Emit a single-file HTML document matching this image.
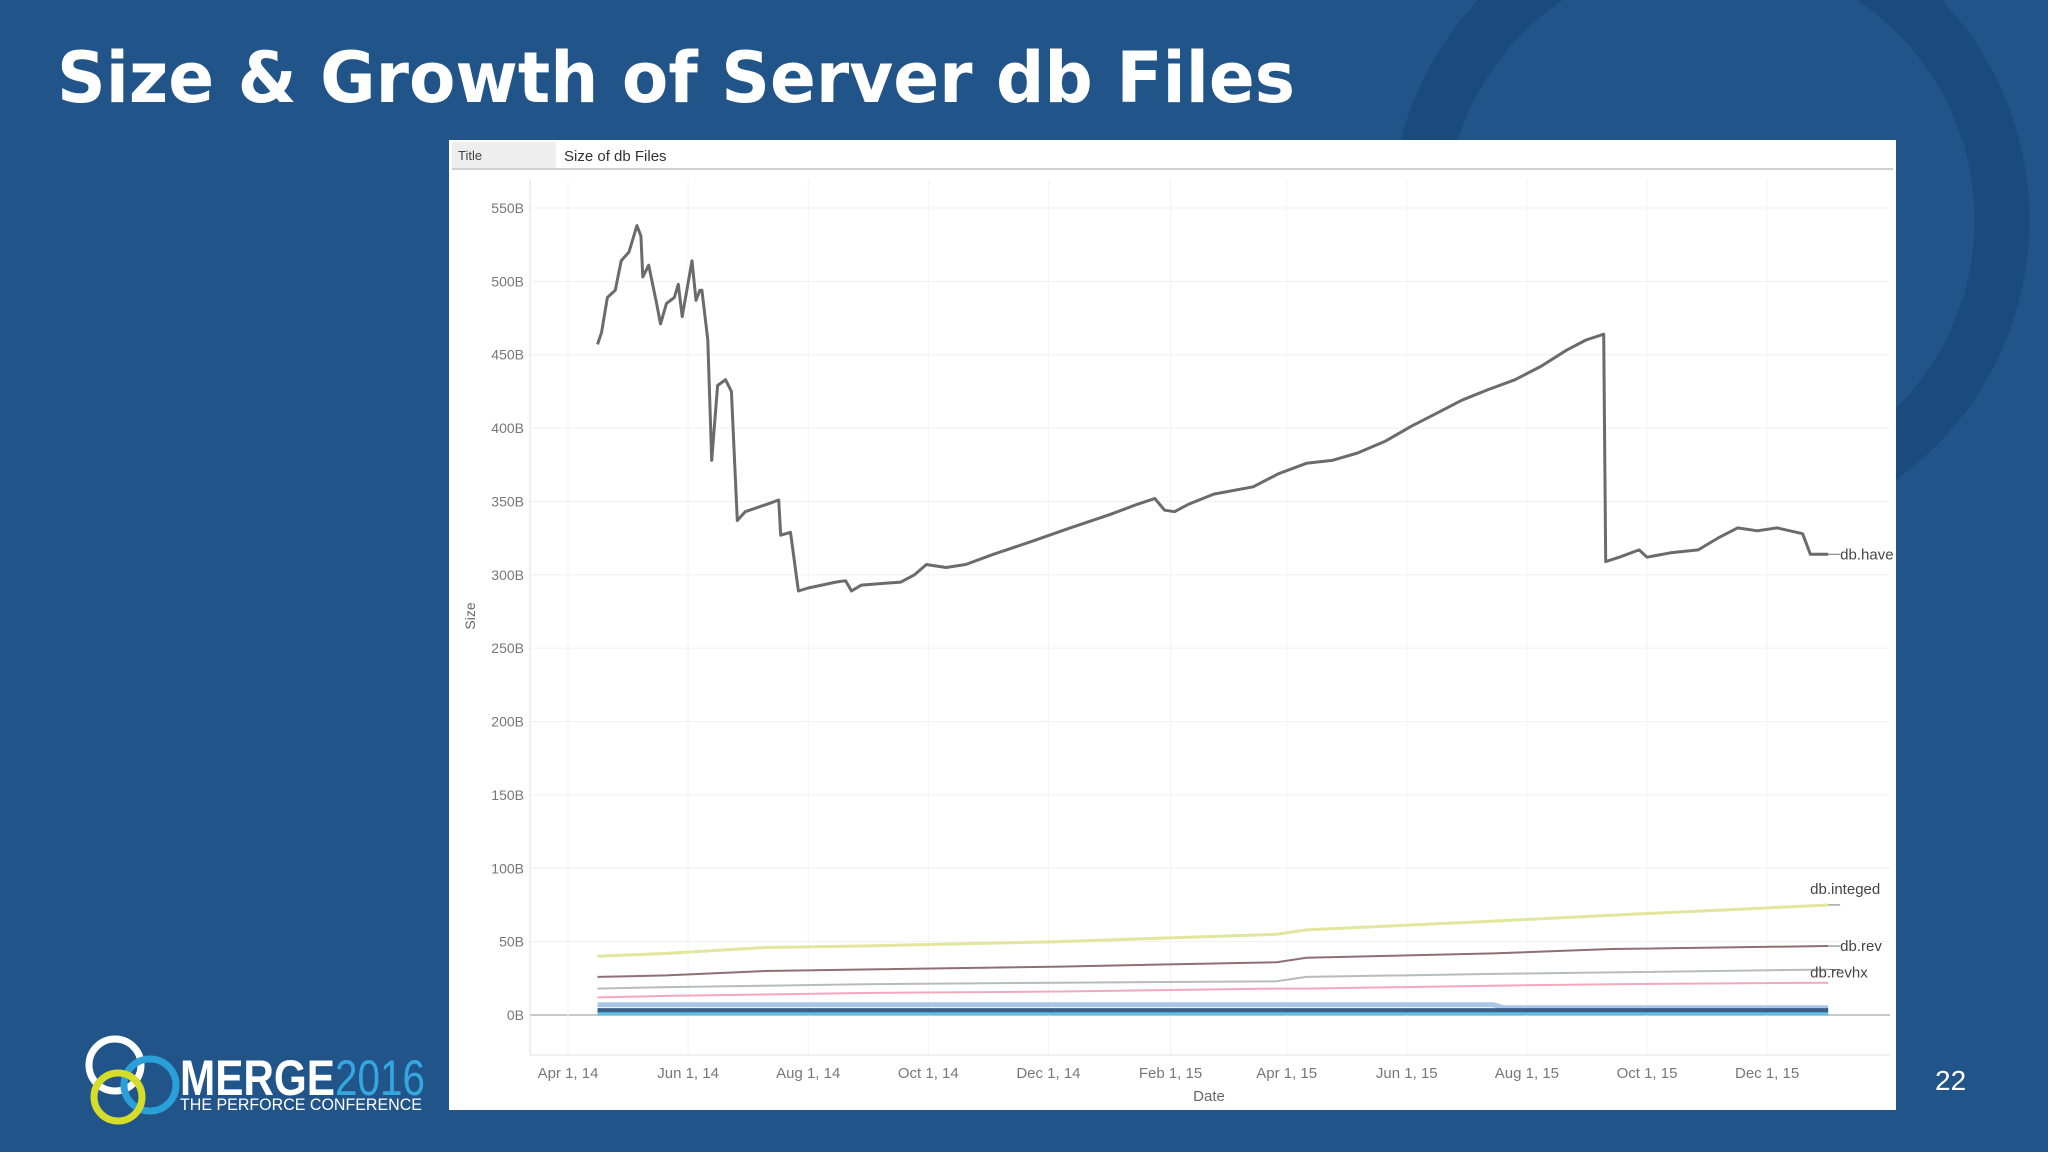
<!DOCTYPE html>
<html><head><meta charset="utf-8"><style>
html,body{margin:0;padding:0;background:#21558a;}
svg{display:block;}
text{font-family:"Liberation Sans",sans-serif;}
</style></head><body>
<svg id="s" width="2048" height="1152" viewBox="0 0 2048 1152" xmlns="http://www.w3.org/2000/svg">
<rect width="2048" height="1152" fill="#21558a"/>
<circle cx="1710" cy="220" r="292" fill="none" stroke="#1b4a7d" stroke-width="55"/>
<text x="57" y="102" style="font-family:'DejaVu Sans',sans-serif" font-weight="bold" font-size="70" fill="#fff" textLength="1238" lengthAdjust="spacingAndGlyphs">Size &amp; Growth of Server db Files</text>
<g>
<rect x="449" y="140" width="1447" height="970" fill="#fff"/>
<rect x="452" y="142" width="104" height="26" fill="#eeeeee"/>
<line x1="452" y1="169" x2="1893" y2="169" stroke="#d0d0d0" stroke-width="2"/>
<text x="458" y="160" font-size="13" fill="#444">Title</text>
<text x="564" y="161" font-size="15" fill="#333">Size of db Files</text>
</g>
<g id="grid"></g>
<g id="axes"></g>
<g id="series"></g>
<text x="475" y="616" font-size="14" fill="#666" transform="rotate(-90 475 616)" text-anchor="middle">Size</text>
<text x="1209" y="1101" font-size="15" fill="#666" text-anchor="middle">Date</text>
<text x="1935" y="1090" font-size="28" fill="#fff">22</text>
<g>
<circle cx="115" cy="1065" r="26" fill="none" stroke="#fff" stroke-width="7"/>
<circle cx="150" cy="1085" r="26" fill="none" stroke="#2a9fd8" stroke-width="7"/>
<circle cx="118" cy="1097" r="24" fill="none" stroke="#d6dc2a" stroke-width="7"/>
<text x="180" y="1095" font-size="50" font-weight="bold" fill="#fff" textLength="155" lengthAdjust="spacingAndGlyphs">MERGE</text>
<text x="335" y="1095" font-size="50" fill="#35a7e0" textLength="90" lengthAdjust="spacingAndGlyphs">2016</text>
<text x="180" y="1110" font-size="17" fill="#fff" textLength="242" lengthAdjust="spacingAndGlyphs">THE PERFORCE CONFERENCE</text>
</g>
</svg>
<script>
const yTicks=[0,50,100,150,200,250,300,350,400,450,500,550];
const yTickLabels=["0B","50B","100B","150B","200B","250B","300B","350B","400B","450B","500B","550B"];
const xTickDays=[0,61,122,183,244,306,365,426,487,548,609];
const xTickLabels=["Apr 1, 14","Jun 1, 14","Aug 1, 14","Oct 1, 14","Dec 1, 14","Feb 1, 15","Apr 1, 15","Jun 1, 15","Aug 1, 15","Oct 1, 15","Dec 1, 15"];
const haveDays=[15,17,20,24,27,31,35,37,38,41,45,47,50,54,56,58,63,65,67,68,71,73,76,80,83,86,90,103,107,108,113,117,122,136,141,144,149,169,176,182,192,202,216,236,255,275,289,298,303,308,315,328,348,361,375,388,401,415,428,441,454,467,481,494,507,517,526,527,534,544,548,560,574,584,594,604,614,627,631,640];
const haveVals=[457,465,489,494,514,520,538,531,503,511,485,471,485,489,498,476,514,487,494,494,460,378,429,433,425,337,343,349,351,327,329,289,291,295,296,289,293,295,300,307,305,307,314,323,332,341,348,352,344,343,348,355,360,369,376,378,383,391,401,410,419,426,433,442,453,460,464,309,312,317,312,315,317,325,332,330,332,328,314,314];
const lowDays=[15,50,100,150,250,360,375,470,530,640];
const integedVals=[40,42,46,47,50,55,58,64,68,75];
const revVals=[26,27,30,31,33,36,39,42,45,47];
const revhxVals=[18,19,20,21,22,23,26,28,29,31];
const pinkVals=[12,13,14,15,16,18,18,20,21,22];
const blueLightDays=[15,470,475,640];
const blueLightVals=[7,7,5,5];
const blueDarkVals=[3,3,3,3];
const cyanVals=[0.8,0.8,0.8,0.8];
const NS="http://www.w3.org/2000/svg";
function X(d){return 568+d*1.969;}
function Y(v){return 1015-v*1.4673;}
function mk(t,a,p){const e=document.createElementNS(NS,t);for(const k in a)e.setAttribute(k,a[k]);p.appendChild(e);return e;}
const grid=document.getElementById('grid'),axes=document.getElementById('axes'),ser=document.getElementById('series');
yTicks.forEach((v,i)=>{
 const l=mk('line',{x1:530,x2:1890,y1:Y(v),y2:Y(v),stroke:v===0?'#c8c8c8':'#f0f0f0','stroke-width':v===0?2:1},grid);
 
 
 const t=mk('text',{x:524,y:Y(v)+5,'font-size':14,fill:'#777','text-anchor':'end'},axes);
 t.textContent=yTickLabels[i];
 
 
});
xTickDays.forEach((d,i)=>{
 const l=mk('line',{x1:X(d),x2:X(d),y1:180,y2:1055,stroke:'#f3f3f3','stroke-width':1},grid);
 
 
 const t=mk('text',{x:X(d),y:1078,'font-size':15,fill:'#777','text-anchor':'middle'},axes);
 t.textContent=xTickLabels[i];
 
 
});
const al=mk('line',{x1:530,x2:530,y1:180,y2:1055,stroke:'#e0e0e0'},axes);


const bl=mk('line',{x1:530,x2:1890,y1:1055,y2:1055,stroke:'#e0e0e0'},axes);


function line(days,vals,color,w,name){
 const pts=days.map((d,i)=>X(d).toFixed(1)+','+Y(vals[i]).toFixed(1)).join(' ');
 const p=mk('polyline',{points:pts,fill:'none',stroke:color,'stroke-width':w,'stroke-linejoin':'round'},ser);
 
 
}
line(blueLightDays,blueLightVals,'#a9c6e6',5,'series-db-light-blue');
line(blueLightDays,blueDarkVals,'#3d5f85',5,'series-db-dark-blue');
line(blueLightDays,cyanVals,'#5bc0e6',3,'series-db-cyan');
line(lowDays,pinkVals,'#f2a9bc',2,'series-db-pink');
line(lowDays,revhxVals,'#b5bcbc',2,'series-db-revhx');
line(lowDays,revVals,'#8e6f72',2,'series-db-rev');
line(lowDays,integedVals,'#e2e69c',3,'series-db-integed');
line(haveDays,haveVals,'#6b6b6b',3,'series-db-have');
function lab(d,v,txt,name,dy){
 const last=X(d);
 const l=mk('line',{x1:last,x2:last+12,y1:Y(v),y2:Y(v),stroke:'#777'},ser);
 
 
 const t=mk('text',{x:last+(dy?-18:12),y:Y(v)+5+(dy||0),'font-size':15,fill:'#444'},ser);
 t.textContent=txt;
 
 
}
lab(haveDays[haveDays.length-1],haveVals[haveVals.length-1],'db.have','label-db-have');
lab(lowDays[lowDays.length-1],integedVals[integedVals.length-1],'db.integed','label-db-integed',-16);
lab(lowDays[lowDays.length-1],revVals[revVals.length-1],'db.rev','label-db-rev');
lab(lowDays[lowDays.length-1],revhxVals[revhxVals.length-1],'db.revhx','label-db-revhx',3);
</script>
</body></html>
